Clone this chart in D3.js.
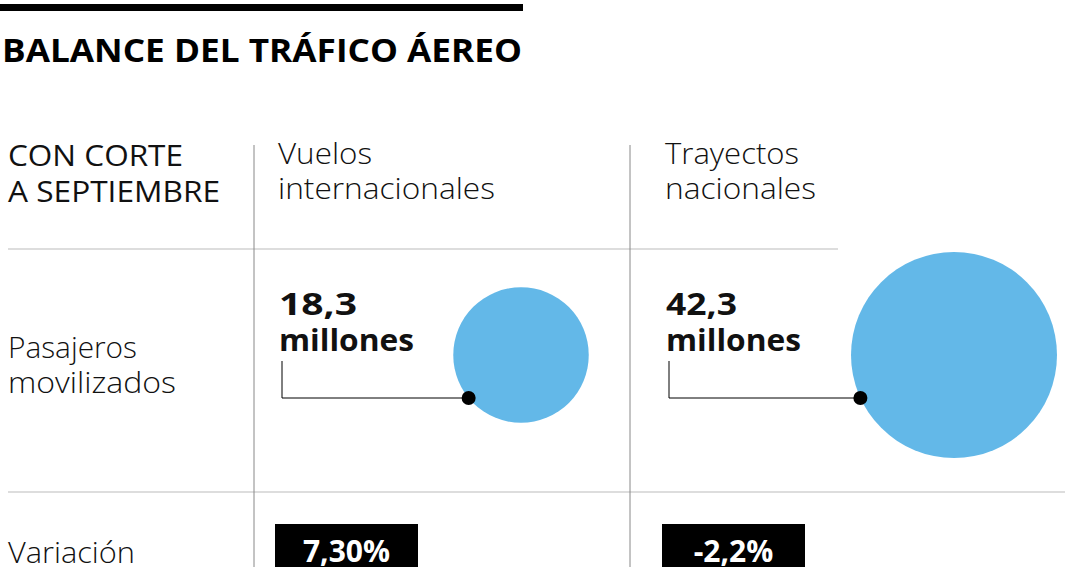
<!DOCTYPE html><html><head><meta charset="utf-8">
<script src="https://cdn.jsdelivr.net/npm/d3@7"></script>
<style>body{margin:0;background:#fff}svg text{font-family:"Open Sans","Noto Sans",sans-serif}</style></head><body>
<script>
const columns=["Vuelos internacionales","Trayectos nacionales"];
const colHeaders=[["Vuelos","internacionales"],["Trayectos","nacionales"]];
const passengers=[18.3,42.3];
const passengerLabels=["18,3","42,3"];
const variation=["7,30%","-2,2%"];
const W=1080,H=567;
const svg=d3.select("body").append("svg").attr("width",W).attr("height",H);
svg.append("rect").attr("x",0).attr("y",4).attr("width",523).attr("height",7).attr("fill","#000");
svg.append("text").attr("x",2).attr("y",62).attr("font-size",33).attr("font-weight",700)
 .attr("textLength",520).attr("lengthAdjust","spacingAndGlyphs").text("BALANCE DEL TRÁFICO ÁEREO");
const x=d3.scaleOrdinal().domain(columns).range([254,630]);
const pad=[0,11];
const r=d3.scaleSqrt().domain([0,42.3]).range([0,103]);
const cx=[521,954];
svg.append("line").attr("x1",8).attr("x2",838).attr("y1",249).attr("y2",249).attr("stroke","#bbb");
svg.append("line").attr("x1",8).attr("x2",1065).attr("y1",492).attr("y2",492).attr("stroke","#bbb");
columns.forEach(c=>svg.append("line").attr("x1",x(c)).attr("x2",x(c)).attr("y1",145).attr("y2",567).attr("stroke","#888"));
function lines(tx,ty,arr,fs,fw,dy,tl){arr.forEach((t,i)=>{const e=svg.append("text").attr("x",tx).attr("y",ty+i*dy).attr("font-size",fs).attr("font-weight",fw).attr("fill","#111").text(t);if(tl&&tl[i])e.attr("textLength",tl[i]).attr("lengthAdjust","spacingAndGlyphs");});}
lines(8,166,["CON CORTE","A SEPTIEMBRE"],29,400,36,[175,212]);
lines(8,358,["Pasajeros","movilizados"],29,300,35,[129,168]);
lines(8,563,["Variación"],29,300,35,[127]);
const hdrLen=[[94,217],[134,151]];
columns.forEach((c,i)=>{
 const x0=x(c)+pad[i];
 lines(x0+24,164,colHeaders[i],29,300,35,hdrLen[i]);
 svg.append("circle").attr("cx",cx[i]).attr("cy",355).attr("r",r(passengers[i])).attr("fill","#63b8e8");
 lines(x0+25,315,[passengerLabels[i],"millones"],30,700,36,[i?71:78,135]);
 const dx=cx[i]-Math.sqrt(r(passengers[i])**2-43**2);
 svg.append("path").attr("d",`M${x0+28},361V398H${dx}`).attr("fill","none").attr("stroke","#000").attr("stroke-width",1);
 svg.append("circle").attr("cx",dx).attr("cy",398).attr("r",7).attr("fill","#000");
 svg.append("rect").attr("x",x0+21).attr("y",524).attr("width",143).attr("height",50).attr("fill","#000");
 svg.append("text").attr("x",x0+21+71.5).attr("y",562).attr("text-anchor","middle").attr("font-size",30).attr("font-weight",700).attr("fill","#fff").text(variation[i]);
});
</script></body></html>
